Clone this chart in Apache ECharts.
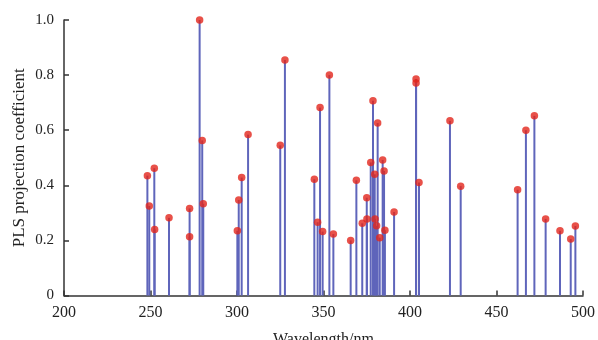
<!DOCTYPE html>
<html><head><meta charset="utf-8">
<script src="https://cdn.jsdelivr.net/npm/echarts@6/dist/echarts.min.js"></script>
<style>html,body{margin:0;padding:0;background:#fff}#c{width:598px;height:340px}</style>
</head><body><div id="c"></div>
<script>
var wavelengths = [248.2,249.3,252.2,252.4,260.7,272.6,272.6,278.4,279.9,280.5,300.2,301.0,302.7,306.4,325.0,327.7,344.7,348.0,346.6,349.5,353.4,355.7,365.7,369.0,372.4,375.0,375.1,377.3,378.6,379.6,379.8,380.7,381.3,382.5,384.2,385.0,385.5,390.8,403.5,403.5,405.2,423.1,429.3,462.2,467.0,471.9,478.4,486.7,492.9,495.6];
var coefficients = [0.435,0.325,0.462,0.240,0.282,0.316,0.213,1.0,0.563,0.333,0.235,0.347,0.428,0.584,0.545,0.855,0.422,0.682,0.266,0.232,0.800,0.223,0.200,0.418,0.262,0.355,0.278,0.483,0.707,0.440,0.278,0.253,0.626,0.210,0.492,0.452,0.237,0.303,0.786,0.771,0.410,0.634,0.397,0.384,0.600,0.652,0.278,0.235,0.205,0.252];
var xTicks = [200,250,300,350,400,450,500];
var yTicks = [0,0.2,0.4,0.6,0.8,1.0];

var pts = wavelengths.map(function(w,i){return [w, coefficients[i]];});
var font = 'Liberation Serif';
var chart = echarts.init(document.getElementById('c'), null, {renderer:'canvas'});
chart.setOption({
  animation:false,
  backgroundColor:'#fff',
  grid:{left:64,right:15,top:20,bottom:44.5,containLabel:false,outerBoundsMode:'none'},
  xAxis:{type:'value',min:xTicks[0],max:xTicks[xTicks.length-1],interval:50,
    name:'Wavelength/nm',nameLocation:'middle',nameGap:36,nameMoveOverlap:false,
    nameTextStyle:{fontFamily:font,fontSize:16,color:'#222'},
    axisLine:{lineStyle:{color:'#333',width:1.5}},
    axisTick:{inside:true,length:5,lineStyle:{color:'#333',width:1.5}},
    axisLabel:{fontFamily:font,fontSize:16,color:'#222',margin:9},
    splitLine:{show:false}},
  yAxis:{type:'value',min:yTicks[0],max:yTicks[yTicks.length-1],interval:0.2,
    name:'PLS projection coefficient',nameLocation:'middle',nameGap:36,nameMoveOverlap:false,
    nameTextStyle:{fontFamily:font,fontSize:17,color:'#222'},
    axisLine:{show:true,lineStyle:{color:'#333',width:1.5}},
    axisTick:{show:true,inside:true,length:5,lineStyle:{color:'#333',width:1.5}},
    axisLabel:{fontFamily:font,fontSize:15,color:'#222',margin:10,
      formatter:function(v){return v===0?'0':v.toFixed(1);}},
    splitLine:{show:false}},
  series:[
    {type:'custom',data:pts,renderItem:function(params,api){
      var a=api.coord([api.value(0),0]);var b=api.coord([api.value(0),api.value(1)]);
      return {type:'line',shape:{x1:a[0],y1:a[1],x2:b[0],y2:b[1]},
        style:{stroke:'#5f65bb',lineWidth:2}};
    },z:2},
    {type:'scatter',data:pts,symbol:'circle',symbolSize:7.5,
      itemStyle:{color:'#e2261c'},z:3}
  ]
});
</script></body></html>
